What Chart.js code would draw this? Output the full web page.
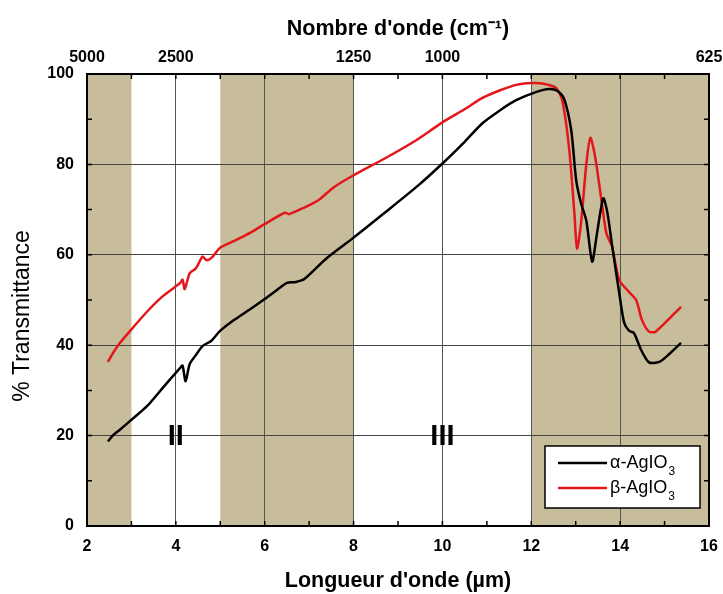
<!DOCTYPE html>
<html>
<head>
<meta charset="utf-8">
<script src="https://cdn.jsdelivr.net/npm/chart.js@4.4.1/dist/chart.umd.min.js"></script>
<style>
  html, body { margin: 0; padding: 0; background: #fff; }
  #wrap { width: 723px; height: 594px; }
</style>
</head>
<body>
<div id="wrap"><canvas id="chart-ir"></canvas></div>
<script>
const seriesLabels = ["α-AgIO3", "β-AgIO3"];
const seriesColors = ["#000000", "#e3161c"];

const alphaX = [2.47, 2.6, 2.74, 3.0, 3.35, 3.7, 4.09, 4.15, 4.22, 4.31, 4.45, 4.6, 4.8, 4.99, 5.3, 5.68, 6.0, 6.34, 6.5, 6.7, 6.9, 7.4, 8.0, 8.7, 9.45, 10.0, 10.5, 10.9, 11.3, 11.66, 12.1, 12.4, 12.6, 12.74, 12.9, 13.01, 13.12, 13.24, 13.37, 13.48, 13.62, 13.71, 13.82, 13.98, 14.09, 14.2, 14.31, 14.47, 14.65, 14.88, 15.1, 15.37];
const alphaY = [18.7, 20.2, 21.3, 23.5, 26.5, 30.5, 34.9, 35.5, 32.0, 35.8, 37.8, 39.8, 41.0, 43.1, 45.5, 48.0, 50.2, 52.7, 53.8, 54.0, 54.7, 59.3, 63.8, 69.3, 75.3, 80.2, 85.0, 89.1, 92.0, 94.2, 96.0, 96.7, 96.2, 94.5, 87.5, 76.5, 71.4, 67.5, 58.5, 64.8, 72.5, 69.5, 62.0, 51.5, 45.0, 43.2, 42.7, 39.0, 36.2, 36.3, 38.0, 40.5];

const betaX = [2.47, 2.6, 2.74, 3.0, 3.35, 3.7, 4.09, 4.15, 4.2, 4.31, 4.45, 4.55, 4.6, 4.7, 4.83, 4.99, 5.3, 5.68, 6.0, 6.45, 6.55, 6.9, 7.2, 7.55, 8.0, 8.7, 9.4, 10.0, 10.5, 10.9, 11.3, 11.66, 12.0, 12.25, 12.56, 12.7, 12.85, 12.97, 13.03, 13.12, 13.24, 13.33, 13.44, 13.57, 13.69, 13.82, 13.98, 14.2, 14.36, 14.49, 14.65, 14.8, 15.37];
const betaY = [36.3, 38.5, 40.5, 43.5, 47.4, 50.8, 53.7, 54.5, 52.4, 55.9, 57.0, 58.8, 59.6, 58.8, 59.6, 61.5, 63.0, 64.9, 66.8, 69.3, 69.0, 70.5, 72.0, 74.9, 77.6, 81.3, 85.3, 89.3, 92.2, 94.7, 96.4, 97.6, 98.0, 97.9, 96.9, 94.0, 83.7, 69.2, 61.4, 67.0, 80.2, 85.9, 81.5, 72.7, 64.8, 61.7, 54.4, 51.8, 50.0, 45.6, 43.0, 43.0, 48.5];

const topWavenumbers = [5000, 2500, 1250, 1000, 625];
const bandRanges = [[2, 3], [5, 8], [12, 16]];
const regionLabels = ["II", "III"];
const regionX = [4, 10];
const regionY = 20;

const BAND = "#c8bd9b";
const FONT = "'Liberation Sans', Arial, sans-serif";

function toPoints(xs, ys) {
  return xs.map(function (x, i) { return { x: x, y: ys[i] }; });
}

// fixed box sizes so the plot area lands where the original one is
function fitHorizontal(h) {
  return function (s) {
    s.height = h;
    s.paddingLeft = 0;
    s.paddingRight = 14;
  };
}

const decorPlugin = {
  id: "decor",
  beforeDraw: function (chart) {
    const c = chart.ctx, a = chart.chartArea, xs = chart.scales.x;
    c.save();
    c.fillStyle = "#fff";
    c.fillRect(0, 0, chart.width, chart.height);
    c.fillStyle = BAND;
    bandRanges.forEach(function (b) {
      const x0 = xs.getPixelForValue(b[0]), x1 = xs.getPixelForValue(b[1]);
      c.fillRect(x0, a.top, x1 - x0, a.bottom - a.top);
    });
    c.restore();
  },
  afterDraw: function (chart) {
    const c = chart.ctx, a = chart.chartArea, xs = chart.scales.x, ys = chart.scales.y;
    c.save();
    // region numerals
    c.fillStyle = "#000";
    c.font = "bold 29px " + FONT;
    c.textAlign = "center";
    c.textBaseline = "middle";
    regionLabels.forEach(function (t, i) {
      c.fillText(t, xs.getPixelForValue(regionX[i]), ys.getPixelForValue(regionY) + 1);
    });

    // inward ticks
    c.strokeStyle = "#000";
    c.lineWidth = 1.5;
    c.beginPath();
    for (let v = Math.ceil(xs.min); v <= xs.max; v++) {
      const px = xs.getPixelForValue(v);
      c.moveTo(px, a.bottom); c.lineTo(px, a.bottom - 5);
      c.moveTo(px, a.top); c.lineTo(px, a.top + 5);
    }
    for (let v = ys.min; v <= ys.max; v += 10) {
      const py = ys.getPixelForValue(v);
      c.moveTo(a.left, py); c.lineTo(a.left + 5, py);
      c.moveTo(a.right, py); c.lineTo(a.right - 5, py);
    }
    c.stroke();

    // frame
    c.lineWidth = 2;
    c.strokeRect(a.left, a.top, a.right - a.left, a.bottom - a.top);

    // legend
    const bw = 155, bh = 62;
    const bx = a.right - 9 - bw, by = a.bottom - 18 - bh;
    c.fillStyle = "#fff";
    c.fillRect(bx, by, bw, bh);
    c.lineWidth = 1.5;
    c.strokeRect(bx, by, bw, bh);
    chart.data.datasets.forEach(function (ds, i) {
      const ly = by + 17 + i * 25;
      c.strokeStyle = ds.borderColor;
      c.lineWidth = 2.5;
      c.beginPath();
      c.moveTo(bx + 13, ly); c.lineTo(bx + 62, ly);
      c.stroke();
      const m = ds.label.match(/^(.*?)(\d+)$/);
      c.fillStyle = "#000";
      c.textAlign = "left";
      c.textBaseline = "middle";
      c.font = "18px " + FONT;
      c.fillText(m[1], bx + 65, ly);
      const w = c.measureText(m[1]).width;
      c.font = "12px " + FONT;
      c.fillText(m[2], bx + 66 + w, ly + 9);
    });
    c.restore();
  }
};

new Chart(document.getElementById("chart-ir"), {
  type: "line",
  data: {
    datasets: [
      {
        label: seriesLabels[0],
        data: toPoints(alphaX, alphaY),
        borderColor: seriesColors[0],
        borderWidth: 2.5,
        pointRadius: 0,
        tension: 0.25
      },
      {
        label: seriesLabels[1],
        data: toPoints(betaX, betaY),
        borderColor: seriesColors[1],
        borderWidth: 2.5,
        pointRadius: 0,
        tension: 0.25
      }
    ]
  },
  options: {
    responsive: true,
    maintainAspectRatio: false,
    animation: false,
    layout: { padding: { left: 0, right: 0, top: 0, bottom: 0 } },
    plugins: {
      legend: { display: false },
      tooltip: { enabled: false }
    },
    scales: {
      x: {
        type: "linear",
        position: "bottom",
        min: 2,
        max: 16,
        afterFit: fitHorizontal(68),
        ticks: {
          stepSize: 2,
          padding: 11,
          color: "#000",
          font: { family: FONT, size: 16, weight: "bold" }
        },
        grid: { color: "#555", lineWidth: 1, drawTicks: false },
        border: { display: false },
        title: {
          display: true,
          text: "Longueur d'onde (µm)",
          color: "#000",
          font: { family: FONT, size: 21.5, weight: "bold" },
          padding: { top: 0, bottom: 0 }
        }
      },
      x2: {
        type: "linear",
        position: "top",
        min: 2,
        max: 16,
        afterFit: fitHorizontal(74),
        afterBuildTicks: function (s) {
          s.ticks = topWavenumbers.map(function (w) { return { value: 10000 / w }; });
        },
        ticks: {
          padding: 7,
          color: "#000",
          font: { family: FONT, size: 16, weight: "bold" },
          callback: function (v) { return String(Math.round(10000 / v)); }
        },
        grid: { display: false, drawTicks: false },
        border: { display: false },
        title: {
          display: true,
          text: "Nombre d'onde (cm⁻¹)",
          color: "#000",
          font: { family: FONT, size: 21.5, weight: "bold" },
          padding: { top: 16, bottom: 0 }
        }
      },
      y: {
        min: 0,
        max: 100,
        afterFit: function (s) { s.width = 87; },
        ticks: {
          stepSize: 20,
          padding: 13,
          color: "#000",
          font: { family: FONT, size: 16, weight: "bold" }
        },
        grid: { color: "#444", lineWidth: 1, drawTicks: false },
        border: { display: false },
        title: {
          display: true,
          text: "% Transmittance     ",
          color: "#000",
          font: { family: FONT, size: 23 },
          padding: { top: 9, bottom: 0 }
        }
      }
    }
  },
  plugins: [decorPlugin]
});
</script>
</body>
</html>
